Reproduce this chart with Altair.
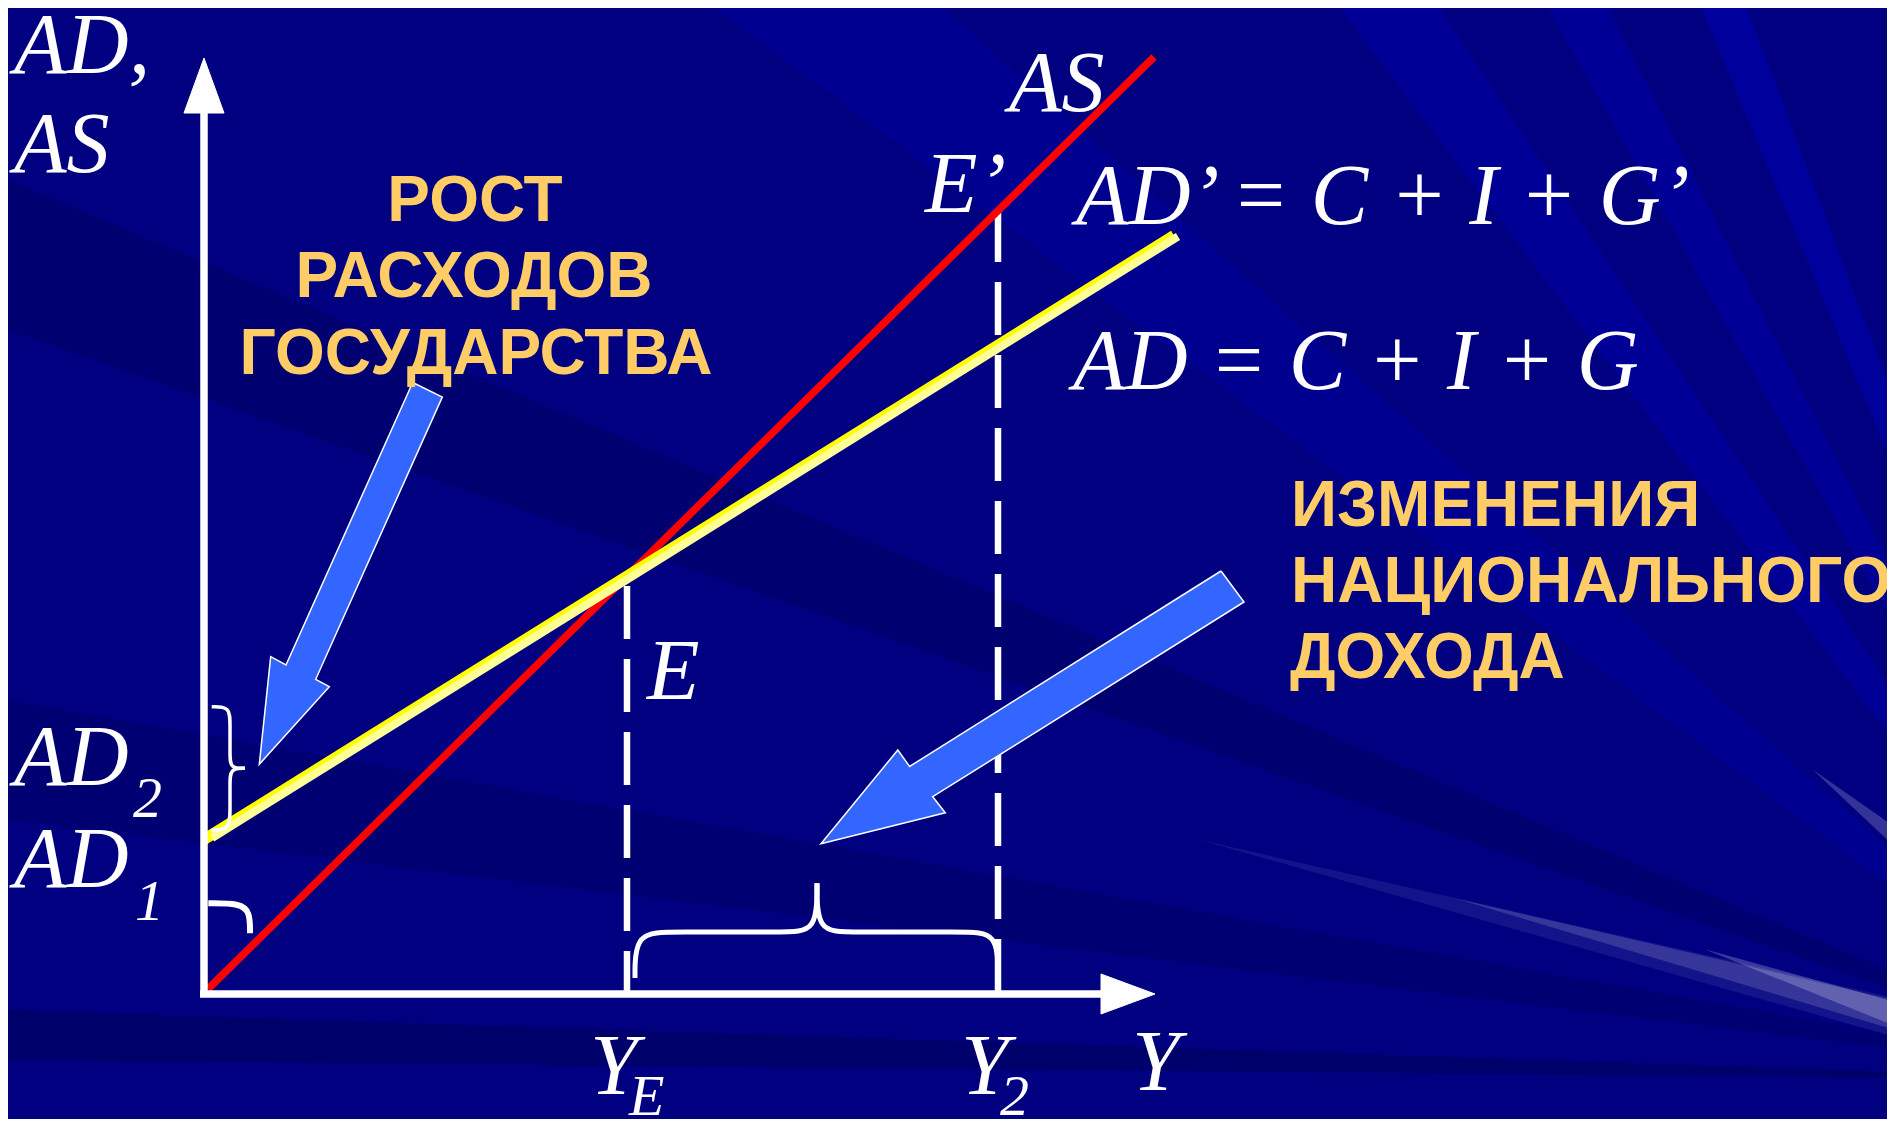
import altair as alt
import pandas as pd

# ---------------- geometry (units: origin at the axes' crossing, y up) -------------
W, H = 1879, 1111
X_DOM = [-196, 1683]
Y_DOM = [-125, 986]

# axes
axis_y = {"x": [0], "y": [-3], "y2": [881]}
axis_x = {"y": [0], "x": [-4], "x2": [897]}
arrow_y = [(0, 936), (-20, 881), (20, 881), (0, 936)]
arrow_x = [(951, 0), (897, 20), (897, -20), (951, 0)]

# curves
as_line = [(4, 5), (950, 937)]
ad2_line = [(0, 154.5), (970, 758.5)]  # AD' (bright yellow)
ad1_line = [(8, 156), (974, 757.5)]    # AD  (pale yellow)

# equilibrium drop lines
drop_x = [423, 794]
drop_top = [408, 785]

# blue arrows
arrow_gov = [(208.7, 611.5), (238.3, 597), (111.7, 314.7), (125.3, 307.3),
             (55.3, 229.7), (66.7, 337.3), (82, 329), (208.7, 611.5)]
arrow_inc = [(1017, 423), (1040, 392), (728.7, 197.3), (741.3, 181.3),
             (617, 150.2), (693.8, 244), (705.6, 227.5), (1017, 423)]

# braces / arc (control points)
brace_v_top = [(7.7, 287.3), (26, 287.3), (26, 270), (26, 240), (26, 225.7), (41, 225.7)]
brace_v_bot = [(41, 225.7), (26, 225.7), (26, 210), (26, 185), (26, 164), (7.7, 164)]
brace_h_left = [(431, 16), (431, 62), (470, 62), (580, 62), (613, 62), (613, 110.7)]
brace_h_right = [(613, 110.7), (613, 62), (646, 62), (760, 62), (794, 62), (794, 16)]
angle_arc = [(4.3, 90.7), (36, 90.7), (46, 82), (46, 60.7)]

# texts
serif_texts = ["AD,", "AS", "AS", "E’", "AD’ = C + I + G’", "AD = C + I + G", "E",
               "AD", "AD", "Y", "Y", "Y"]
serif_x = [-190, -190, 805, 721, 872, 869, 443, -190, -190, 386, 757, 928]
serif_y = [921, 822, 883, 782, 770, 605, 295, 209, 107, -100, -100, -96]

sub_texts = ["2", "1", "E", "2"]
sub_x = [-71, -69, 425, 796]
sub_y = [177, 74, -121, -121]

gov_texts = ["РОСТ", "РАСХОДОВ", "ГОСУДАРСТВА"]
gov_x = [271, 270, 272]
gov_y = [773.3, 696.7, 620]

inc_texts = ["ИЗМЕНЕНИЯ", "НАЦИОНАЛЬНОГО", "ДОХОДА"]
inc_x = [1087, 1087, 1086]
inc_y = [468, 392.3, 315.7]

# background rays: apex + two far points, colour, opacity
C = (1946, -86)
bands = [
    ([C, (500, 994), (730, 994)], "#0000a8", 0.40),
    ([C, (1130, 994), (1230, 994)], "#0000b4", 0.45),
    ([C, (1340, 994), (1400, 994)], "#0000b4", 0.45),
    ([C, (1494, 994), (1540, 994)], "#0000b8", 0.50),
    ([C, (1683, 860), (1683, 760)], "#0000b0", 0.40),
    ([C, (-196, 814), (-196, 664)], "#000060", 0.50),
    ([C, (-196, 294), (-196, 174)], "#000060", 0.40),
    ([C, (-196, -16), (-196, -66)], "#000058", 0.55),
    ([(996, 154), (1691, -4), (1691, -43)], "#ffffff", 0.08),
    ([(1250, 96), (1691, -6), (1691, -36)], "#ffffff", 0.14),
    ([(1500, 45), (1691, -8), (1691, -32)], "#ffffff", 0.22),
    ([(1608.6, 224.5), (1691, 167), (1691, 147)], "#ffffff", 0.20),
]

# ---------------- helpers -------------
xs = alt.Scale(domain=X_DOM, nice=False, zero=False)
ys = alt.Scale(domain=Y_DOM, nice=False, zero=False)


def X(f="x"):
    return alt.X(f"{f}:Q", scale=xs, axis=None)


def Y(f="y"):
    return alt.Y(f"{f}:Q", scale=ys, axis=None)


def poly_df(polys):
    rows = []
    for k, pts in enumerate(polys):
        for i, (x, y) in enumerate(pts):
            rows.append({"id": k, "i": i, "x": x, "y": y})
    return pd.DataFrame(rows)


def seg_df(pts):
    return pd.DataFrame({"x": [pts[0][0]], "y": [pts[0][1]],
                         "x2": [pts[1][0]], "y2": [pts[1][1]]})


layers = []

# background bands
for k, (pts, col, op) in enumerate(bands):
    df = poly_df([pts + [pts[0]]])
    layers.append(alt.Chart(df).mark_line(fill=col, fillOpacity=op, strokeWidth=0,
                                          stroke=col, strokeOpacity=0).encode(
        x=X(), y=Y(), order="i:Q", detail="id:N"))

# drop lines
drop_df = pd.DataFrame({"x": drop_x, "y": drop_top, "y2": [0, 0]})
layers.append(alt.Chart(drop_df).mark_rule(color="white", strokeWidth=6.5,
                                           strokeDash=[53, 20]).encode(
    x=X(), y=Y(), y2="y2:Q"))

# AS
layers.append(alt.Chart(seg_df(as_line)).mark_rule(color="#ff0000", strokeWidth=7.5).encode(
    x=X(), y=Y(), x2="x2:Q", y2="y2:Q"))
# AD', AD
layers.append(alt.Chart(seg_df(ad2_line)).mark_rule(color="#ffff00", strokeWidth=11).encode(
    x=X(), y=Y(), x2="x2:Q", y2="y2:Q"))
layers.append(alt.Chart(seg_df(ad1_line)).mark_rule(color="#ffff99", strokeWidth=8).encode(
    x=X(), y=Y(), x2="x2:Q", y2="y2:Q"))

# blue arrows
layers.append(alt.Chart(poly_df([arrow_gov, arrow_inc])).mark_line(
    fill="#3366ff", stroke="white", strokeWidth=1.5).encode(
    x=X(), y=Y(), order="i:Q", detail="id:N"))

# braces
layers.append(alt.Chart(poly_df([brace_v_top, brace_v_bot])).mark_line(
    color="white", strokeWidth=3.5, interpolate="basis").encode(
    x=X(), y=Y(), order="i:Q", detail="id:N"))
layers.append(alt.Chart(poly_df([brace_h_left, brace_h_right])).mark_line(
    color="white", strokeWidth=5, interpolate="basis").encode(
    x=X(), y=Y(), order="i:Q", detail="id:N"))
layers.append(alt.Chart(poly_df([angle_arc])).mark_line(
    color="white", strokeWidth=6, interpolate="basis").encode(
    x=X(), y=Y(), order="i:Q", detail="id:N"))

# axes
layers.append(alt.Chart(pd.DataFrame(axis_y)).mark_rule(color="white", strokeWidth=7.5).encode(
    x=X(), y=Y(), y2="y2:Q"))
layers.append(alt.Chart(pd.DataFrame(axis_x)).mark_rule(color="white", strokeWidth=7.5).encode(
    x=X(), x2="x2:Q", y=Y()))
layers.append(alt.Chart(poly_df([arrow_y, arrow_x])).mark_line(
    fill="white", stroke="white", strokeWidth=1).encode(
    x=X(), y=Y(), order="i:Q", detail="id:N"))

# texts
serif_df = pd.DataFrame({"t": serif_texts, "x": serif_x, "y": serif_y})
layers.append(alt.Chart(serif_df).mark_text(
    font="Liberation Serif", fontStyle="italic", fontSize=86, color="white",
    align="left", baseline="alphabetic").encode(x=X(), y=Y(), text="t:N"))
sub_df = pd.DataFrame({"t": sub_texts, "x": sub_x, "y": sub_y})
layers.append(alt.Chart(sub_df).mark_text(
    font="Liberation Serif", fontStyle="italic", fontSize=58, color="white",
    align="left", baseline="alphabetic").encode(x=X(), y=Y(), text="t:N"))
gov_df = pd.DataFrame({"t": gov_texts, "x": gov_x, "y": gov_y})
layers.append(alt.Chart(gov_df).mark_text(
    font="Liberation Sans", fontWeight="bold", fontSize=64, color="#ffcc66",
    align="center", baseline="alphabetic").encode(x=X(), y=Y(), text="t:N"))
inc_df = pd.DataFrame({"t": inc_texts, "x": inc_x, "y": inc_y})
layers.append(alt.Chart(inc_df).mark_text(
    font="Liberation Sans", fontWeight="bold", fontSize=64, color="#ffcc66",
    align="left", baseline="alphabetic").encode(x=X(), y=Y(), text="t:N"))

chart = alt.layer(*layers).properties(
    width=W, height=H, padding=0, autosize=alt.AutoSizeParams(type="none"),
    background="#000080",
).configure_view(stroke=None)

chart.save("out.html", embed_options={"renderer": "svg", "actions": False})
